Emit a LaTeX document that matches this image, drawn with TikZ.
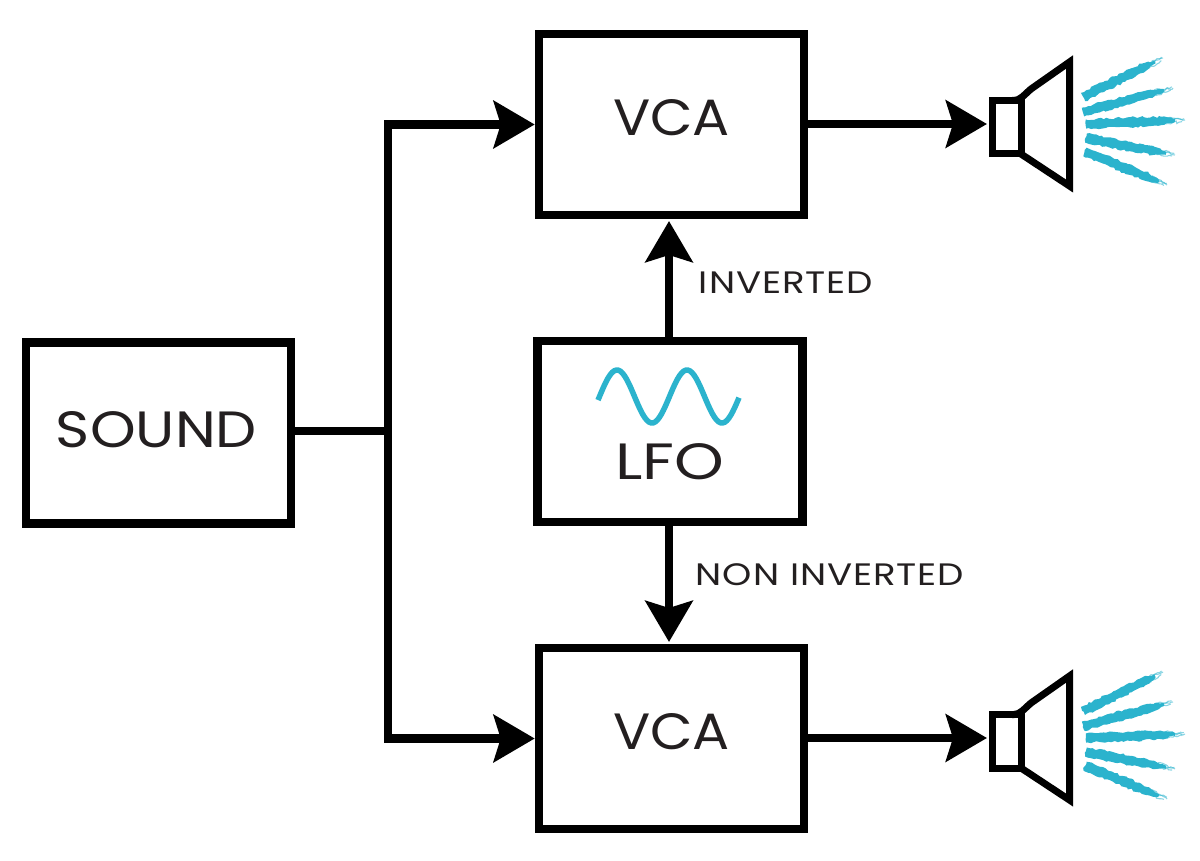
\documentclass[tikz,border=0pt]{standalone}
\usepackage{fontspec}
\setmainfont{Poppins}
\usetikzlibrary{arrows.meta,calc,decorations.pathmorphing}
\definecolor{ink}{HTML}{231F20}
\definecolor{wave}{HTML}{2BB3CD}
\newcommand{\bigfont}[2]{\fontsize{51}{51}\selectfont\addfontfeature{FakeStretch=#1,LetterSpace=#2}}
\tikzset{
  blockbox/.style={draw=black,line width=8.5pt,fill=white,inner sep=0pt,minimum width=265pt,minimum height=181pt},
  wire/.style={line width=8.5pt,draw=black},
  arrowwire/.style={wire,-{Stealth[length=41pt,width=47pt,inset=7pt]}},
  bigtext/.style={text=ink,inner sep=0pt},
  smalltext/.style={text=ink,font=\fontsize{31}{31}\selectfont\addfontfeature{FakeStretch=1.2,LetterSpace=3},inner sep=0pt},
  spk/.style={draw=black,line width=7pt,line join=miter},
  ray/.style={fill=wave,draw=none,decorate,decoration={random steps,segment length=3pt,amplitude=1.1pt}},
  tail/.style={draw=wave,line width=1.1pt,opacity=.55,decorate,decoration={random steps,segment length=2.5pt,amplitude=1.3pt}}
}
\newcommand{\sprayray}[2]{%
  \path[ray] ($(#1)!4.6pt!90:(#2)$) -- ($(#1)!.5!(#2)!4.8pt!90:(#2)$) -- ($(#1)!.76!(#2)!4.2pt!90:(#2)$) -- ($(#1)!.9!(#2)!1.5pt!90:(#2)$)
     -- ($(#1)!.9!(#2)!1.5pt!-90:(#2)$) -- ($(#1)!.76!(#2)!4.2pt!-90:(#2)$) -- ($(#1)!.5!(#2)!4.8pt!-90:(#2)$) -- ($(#1)!4.6pt!-90:(#2)$) -- cycle;
  \draw[tail] ($(#1)!.8!(#2)!3pt!90:(#2)$) -- (#2);
  \draw[tail] ($(#1)!.8!(#2)!3pt!-90:(#2)$) -- ($(#1)!.97!(#2)!1.5pt!-90:(#2)$);
  \draw[tail] ($(#1)!.85!(#2)$) -- ($(#1)!.99!(#2)!1.5pt!90:(#2)$);
}
\newcommand{\speakerat}[1]{%
  \begin{scope}[yshift=-#1pt]
    \draw[spk] (992.5,100.5) rectangle (1021,154);
    \draw[spk] (1012,100.5) -- (1014,100.5) .. controls (1020,100.5) and (1024,95) .. (1031,89) -- (1069.5,62) -- (1069.5,186) -- (1021,154);
    \coordinate (r1a) at (1083,97); \coordinate (r1b) at (1163,58);
    \coordinate (r2a) at (1083,112); \coordinate (r2b) at (1173,88);
    \coordinate (r3a) at (1086,124); \coordinate (r3b) at (1185,120);
    \coordinate (r4a) at (1086,138); \coordinate (r4b) at (1175,155);
    \coordinate (r5a) at (1085,152); \coordinate (r5b) at (1167,185);
    \sprayray{r1a}{r1b}\sprayray{r2a}{r2b}\sprayray{r3a}{r3b}\sprayray{r4a}{r4b}\sprayray{r5a}{r5b}
  \end{scope}%
}
\begin{document}
\begin{tikzpicture}[x=1pt,y=-1pt]
\pgfmathsetseed{42}
\useasboundingbox (0,0) rectangle (1200,861);
\node[blockbox] (vcaa) at (671.5,124.5) {};
\node[blockbox] (sound) at (158.5,433) {};
\node[blockbox] (lfo) at (670,431.7) {};
\node[blockbox] (vcab) at (671.5,738.5) {};
\node[bigtext,font=\bigfont{1.08}{0}] (vcaatxt) at (671.5,118) {VCA};
\node[bigtext,font=\bigfont{1.14}{0}] (soundtxt) at (156.5,430) {SOUND};
\node[bigtext,font=\bigfont{1.24}{0}] (lfotxt) at (669.5,461.5) {LFO};
\node[bigtext,font=\bigfont{1.08}{0}] (vcabtxt) at (671.5,732) {VCA};
\node[smalltext] (inv) at (786,283) {INVERTED};
\node[smalltext] (noninv) at (830,575) {NON INVERTED};
\coordinate (junction) at (388,431);
\coordinate (spka) at (987,124);
\coordinate (spkb) at (987,738);
\coordinate (lfotop) at (669,340);
\coordinate (lfobot) at (669,524);
\coordinate (vcaain) at (669,221);
\coordinate (vcabin) at (669,642);
\draw[wire] (sound.east |- junction) -- (junction);
\draw[arrowwire] (junction) |- (vcaa.west);
\draw[arrowwire] (junction) |- (vcab.west);
\draw[arrowwire] (lfotop) -- (vcaain);
\draw[arrowwire] (lfobot) -- (vcabin);
\draw[arrowwire] (vcaa.east |- spka) -- (spka);
\draw[arrowwire] (vcab.east |- spkb) -- (spkb);
\draw[draw=wave,line width=5.5pt,smooth] plot[domain=598:739,samples=70,variable=\t] (\t,{396.5-26.5*cos((\t-617)/70*360)});
\speakerat{0}
\speakerat{614}
\end{tikzpicture}
\end{document}
